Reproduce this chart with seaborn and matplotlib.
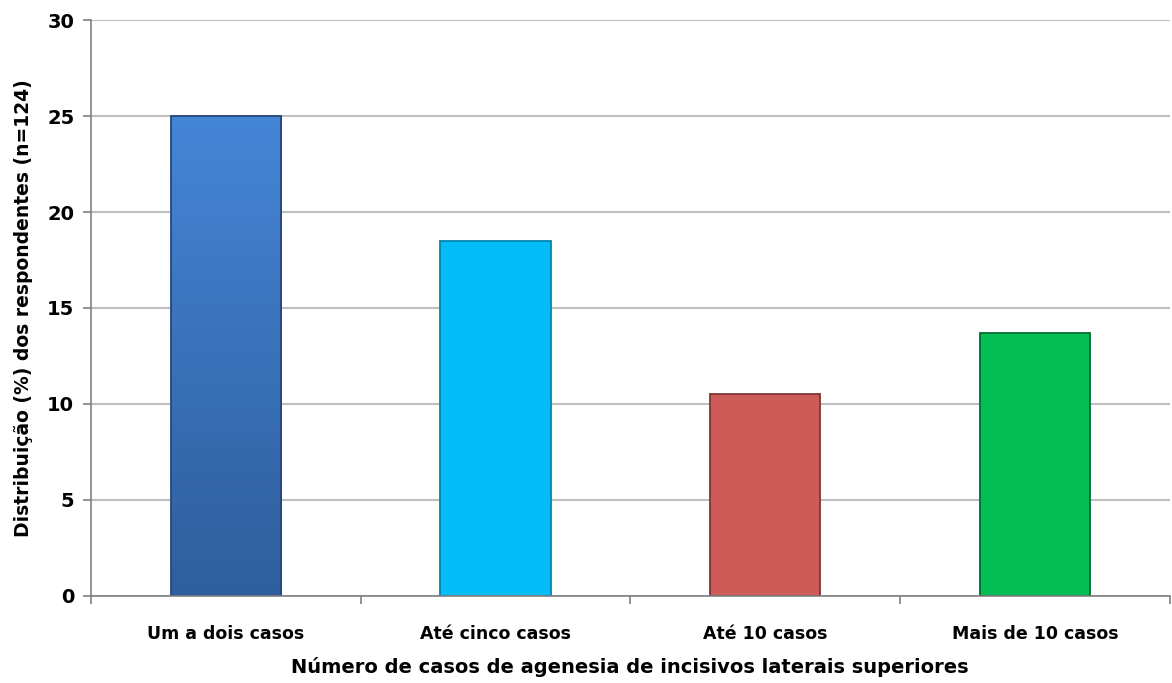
import matplotlib
matplotlib.use("Agg")
import matplotlib.pyplot as plt
import seaborn as sns
import pandas as pd
import numpy as np
from matplotlib.colors import LinearSegmentedColormap

categories = ["Um a dois casos", "Até cinco casos", "Até 10 casos", "Mais de 10 casos"]
values = [25.0, 18.5, 10.5, 13.7]
colors = ["#3D74BE", "#02BDF8", "#CD5B58", "#05BD55"]
edge_colors = ["#24477A", "#0085B0", "#7E3533", "#006B30"]
y_ticks = [0, 5, 10, 15, 20, 25, 30]

sns.set_theme(style="white")
plt.rcParams['font.family'] = ['DejaVu Sans']
plt.rcParams['text.color'] = 'black'
plt.rcParams['axes.labelcolor'] = 'black'
plt.rcParams['xtick.color'] = 'black'
plt.rcParams['ytick.color'] = 'black'

df = pd.DataFrame({"cat": categories, "val": values})

fig = plt.figure(figsize=(11.72, 6.83), dpi=100)
ax = fig.add_axes([0.0776, 0.1274, 0.9204, 0.8433])

sns.barplot(data=df, x="cat", y="val", hue="cat", palette=colors, width=0.41,
            legend=False, ax=ax, saturation=1)
for p, ec in zip(ax.patches, edge_colors):
    p.set_edgecolor(ec)
    p.set_linewidth(1.3)

# vertical gradient on the first bar (lighter top, darker bottom)
p0 = ax.patches[0]
x0, y0 = p0.get_x(), p0.get_y()
w0, h0 = p0.get_width(), p0.get_height()
cmap = LinearSegmentedColormap.from_list("g", ["#2F5E9C", "#4585D6"])
grad = np.linspace(0, 1, 256).reshape(-1, 1)
im = ax.imshow(grad, extent=[x0, x0 + w0, y0, y0 + h0], origin="lower",
               cmap=cmap, aspect="auto", zorder=p0.get_zorder())
im.set_clip_path(p0)
p0.set_zorder(p0.get_zorder() + 0.1)
p0.set_facecolor("none")

ax.set_ylim(0, 30)
ax.set_xlim(-0.5, 3.5)
ax.set_yticks(y_ticks)
ax.set_yticklabels([str(t) for t in y_ticks], fontsize=14, fontweight='bold')
ax.yaxis.grid(True, color="#BFBFBF", linewidth=1.5)
ax.set_axisbelow(True)

ax.set_xticks(range(4))
ax.set_xticklabels(categories, fontsize=12.5, fontweight='bold')
ax.tick_params(axis='x', length=0, pad=21)
ax.tick_params(axis='y', length=6, width=1.2, color="#808080", direction='out', left=True, pad=6)
ax.set_xticks([0.5, 1.5, 2.5, 3.5, -0.5], minor=True)
ax.tick_params(axis='x', which='minor', length=6, width=1.2, color="#808080", direction='out', bottom=True)

for s in ["top", "right"]:
    ax.spines[s].set_visible(False)
for s in ["left", "bottom"]:
    ax.spines[s].set_color("#808080")
    ax.spines[s].set_linewidth(1.2)

ax.set_xlabel("Número de casos de agenesia de incisivos laterais superiores",
              fontsize=14, fontweight='heavy', labelpad=10)
ax.set_ylabel("Distribuição (%) dos respondentes (n=124)", fontsize=13.5,
              fontweight='heavy', labelpad=10)

fig.savefig("out.png", dpi=100)
